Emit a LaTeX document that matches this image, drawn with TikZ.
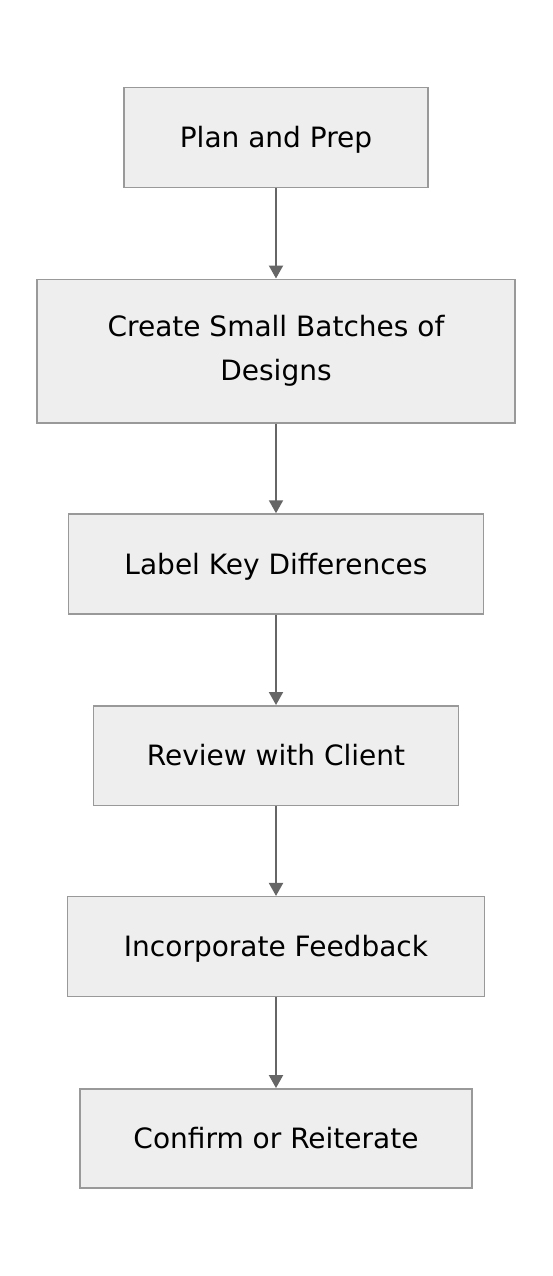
\documentclass[tikz,border=0pt]{standalone}
\usepackage{fontspec}
\setmainfont{DejaVu Sans}
\usetikzlibrary{arrows.meta}
\definecolor{boxfill}{HTML}{EEEEEE}
\definecolor{boxline}{HTML}{999999}
\definecolor{edgeline}{HTML}{666666}

\begin{document}
\begin{tikzpicture}
	[x=1pt,y=-1pt,>={Triangle[length=13pt,width=14pt]},
	every node/.style={rectangle, draw=boxline, fill=boxfill, line width=1.5pt,
		align=center, font=\fontsize{28}{44}\selectfont, inner sep=0pt},
	oneline/.style={text height=20.5pt, text depth=0pt}]
	\useasboundingbox (0,0) rectangle (552,1276);
	\node[oneline] (n1) at (276,137.3) [minimum width=304pt, minimum height=100pt] {Plan and Prep};
	\node (n2) at (276,351)   [minimum width=478pt, minimum height=143.5pt] {Create Small Batches of\\Designs};
	\node[oneline] (n3) at (276,564)   [minimum width=415pt, minimum height=100pt] {Label Key Differences};
	\node[oneline] (n4) at (276,755.5) [minimum width=365pt, minimum height=99.5pt] {Review with Client};
	\node[oneline] (n5) at (276,946.7) [minimum width=417pt, minimum height=100pt] {Incorporate Feedback};
	\node[oneline] (n6) at (276,1138.3) [minimum width=392pt, minimum height=99pt] {Confirm or Reiterate};
	
	\foreach \from/\to in {n1/n2,n2/n3,n3/n4,n4/n5,n5/n6}
	\draw[->, edgeline, line width=2pt] (\from) -- (\to);
\end{tikzpicture}
\end{document}
